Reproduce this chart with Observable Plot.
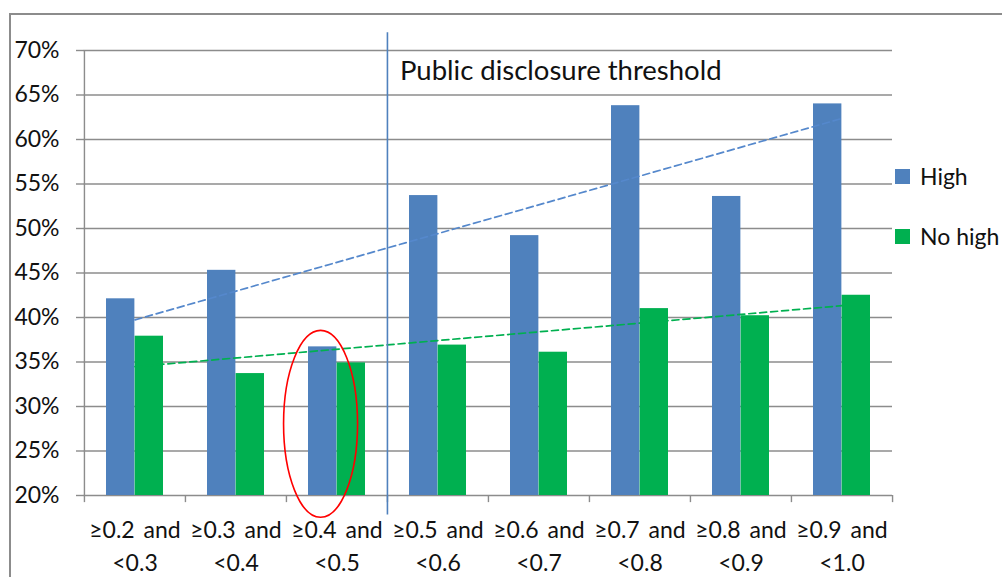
<!DOCTYPE html>
<html><head><meta charset="utf-8">
<script src="https://cdn.jsdelivr.net/npm/d3@7"></script>
<script src="https://cdn.jsdelivr.net/npm/@observablehq/plot@0.6"></script>
<style>
html,body{margin:0;padding:0;background:#fff;overflow:hidden;}
#wrap{position:relative;width:1002px;height:577px;font-family:Lato,sans-serif;overflow:hidden;}
#frame{position:absolute;left:9px;top:13px;width:1100px;height:700px;border:2px solid #8c8c8c;box-sizing:border-box;}
#chart{position:absolute;left:0;top:0;}
.xl{word-spacing:3px;}
.lg{position:absolute;left:895px;height:22px;display:flex;align-items:center;font-size:23px;color:#111;white-space:nowrap;}
.lg span.sw{display:inline-block;width:15px;height:15px;margin-right:10px;}
</style>
</head><body>
<div id="wrap"><div id="frame"></div><div id="chart"></div></div>
<script>
const categories = ["≥0.2 and\n<0.3","≥0.3 and\n<0.4","≥0.4 and\n<0.5","≥0.5 and\n<0.6","≥0.6 and\n<0.7","≥0.7 and\n<0.8","≥0.8 and\n<0.9","≥0.9 and\n<1.0"];
const high = [42.1,45.3,36.7,53.7,49.2,63.8,53.6,64.0];
const noHigh = [37.9,33.7,34.9,36.9,36.1,41.0,40.2,42.5];
const seriesNames = ["High","No high"];
const seriesColors = ["#4F81BD","#00B050"];
const yTicks = [20,25,30,35,40,45,50,55,60,65,70];
const thresholdLabel = "Public disclosure threshold";
const thresholdIndex = 3;      // threshold sits before this category
const highlightIndex = 2;      // circled category
const highlightRange = [17.5, 38.5];

const W = 1002, H = 577, mL = 83, mR = 110, mT = 50, mB = 82;
const bw = (W - mL - mR) / categories.length;
const outer = 22, barW = 28.5;
const grid = "#8c8c8c";

const rowsHigh = categories.map((c,i)=>({cat:c, v:high[i]}));
const rowsNo = categories.map((c,i)=>({cat:c, v:noHigh[i]}));

function trend(vals){
  const n = vals.length, xs = d3.range(1,n+1);
  const mx = d3.mean(xs), my = d3.mean(vals);
  const b = d3.sum(xs,(x,i)=>(x-mx)*(vals[i]-my)) / d3.sum(xs,x=>(x-mx)**2);
  const a = my - b*mx;
  return [{cat:categories[0], v:a+b*1},{cat:categories[n-1], v:a+b*n}];
}

const chart = Plot.plot({
  width: W, height: H,
  marginLeft: mL, marginRight: mR, marginTop: mT, marginBottom: mB,
  style: {fontFamily: "Lato, sans-serif", background: "transparent", overflow: "visible"},
  x: {domain: categories, padding: 0, axis: null},
  y: {domain: [20,70], axis: null},
  marks: [
    Plot.ruleY(yTicks, {stroke: grid, strokeWidth: 1.4}),
    Plot.axisY({ticks: yTicks, tickFormat: d=>d+"%", tickSize: 7, tickPadding: 17, stroke: grid, strokeWidth: 1.4, fontSize: 23, fill: "#111", strokeOpacity: 1, label: null}),
    Plot.ruleX([categories[0]], {x: d=>d, y1: ()=>20, y2: ()=>70, dx: -bw/2, stroke: grid, strokeWidth: 1.4}),
    Plot.ruleX(categories, {x: d=>d, y1: ()=>20, y2: ()=>19.2, dx: -bw/2, stroke: grid, strokeWidth: 1.4}),
    Plot.ruleX([categories[categories.length-1]], {x: d=>d, y1: ()=>20, y2: ()=>19.2, dx: bw/2, stroke: grid, strokeWidth: 1.4}),
    Plot.barY(rowsHigh, {x: "cat", y1: ()=>20, y2: "v", fill: seriesColors[0], insetLeft: outer, insetRight: bw-outer-barW}),
    Plot.barY(rowsNo, {x: "cat", y1: ()=>20, y2: "v", fill: seriesColors[1], insetLeft: bw-outer-barW, insetRight: outer}),
    Plot.line(trend(high), {x: "cat", y: "v", stroke: "#5588CC", strokeWidth: 1.7, strokeDasharray: "7,4"}),
    Plot.line(trend(noHigh), {x: "cat", y: "v", stroke: "#00B050", strokeWidth: 1.7, strokeDasharray: "7,4"}),
    Plot.ruleX([categories[thresholdIndex]], {x: d=>d, y1: ()=>17.8, y2: ()=>72, dx: -bw/2, stroke: "#4F81BD", strokeWidth: 1.6}),
    Plot.text([thresholdLabel], {x: ()=>categories[thresholdIndex], y: ()=>67.7, text: d=>d, dx: -bw/2+12.5, textAnchor: "start", fontSize: 27.5, fill: "#111"}),
    Plot.text(categories, {x: d=>d, y: ()=>20, text: d=>d, dy: 19, lineAnchor: "top", lineHeight: 1.43, fontSize: 23, fill: "#111", className: "xl"})
  ]
});
document.getElementById("chart").appendChild(chart);

// highlight ellipse around the circled category
const xs = chart.scale("x"), ys = chart.scale("y");
const cx = xs.apply(categories[highlightIndex]) + bw/2 - 16;
const y0 = ys.apply(highlightRange[0]), y1 = ys.apply(highlightRange[1]);
d3.select(chart).append("ellipse")
  .attr("cx", cx).attr("cy", (y0+y1)/2)
  .attr("rx", 37).attr("ry", Math.abs(y0-y1)/2)
  .attr("fill","none").attr("stroke","#FF0000").attr("stroke-width",1.6);

// legend
const wrap = document.getElementById("wrap");
seriesNames.forEach((n,i)=>{
  const d = document.createElement("div");
  d.className = "lg";
  d.style.top = (165 + i*60) + "px";
  d.innerHTML = `<span class="sw" style="background:${seriesColors[i]}"></span><span>${n}</span>`;
  wrap.appendChild(d);
});
</script>
</body></html>
